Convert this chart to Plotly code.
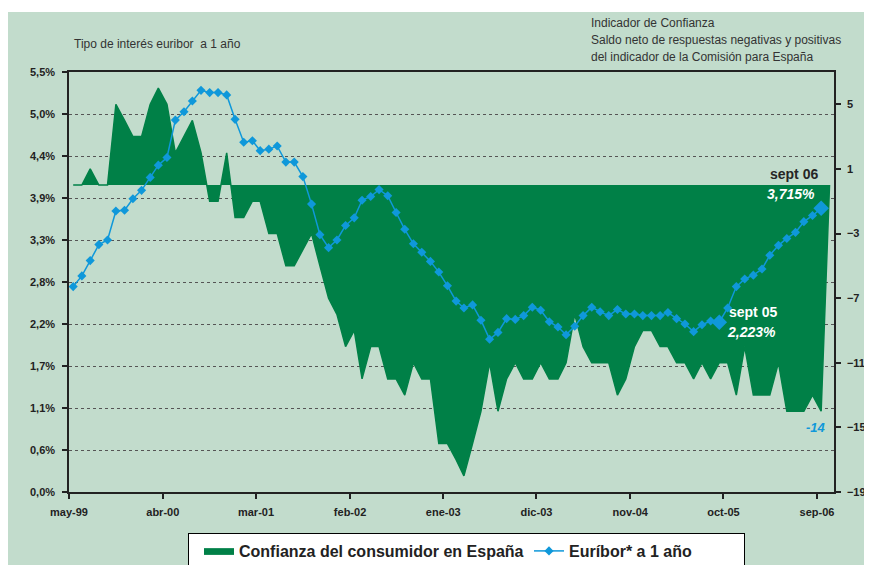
import pandas as pd
import plotly.graph_objects as go

# ---------------- data ----------------
# Monthly categories May-1999 .. Oct-2006
months = pd.date_range("1999-05-01", "2006-10-01", freq="MS")

# Consumer confidence indicator (Spain), balance of answers (right axis)
confianza = [
    0, 0, 1, 0, 0, 5, 4, 3, 3, 5, 6, 5,            # may-99 .. apr-00
    2, 3, 4, 2, -1, -1, 2, -2, -2, -1, -1, -3,     # may-00 .. apr-01
    -3, -5, -5, -4, -3, -5, -7, -8, -10, -9, -12, -10,   # may-01 .. apr-02
    -10, -12, -12, -13, -11, -12, -12, -16, -16, -17, -18, -16,  # may-02 .. apr-03
    -14, -11, -14, -12, -11, -12, -12, -11, -12, -12, -11, -8,   # may-03 .. apr-04
    -10, -11, -11, -11, -13, -12, -10, -9, -9, -10, -10, -11,    # may-04 .. apr-05
    -11, -12, -11, -12, -11, -11, -13, -10, -13, -13, -13, -11,  # may-05 .. apr-06
    -14, -14, -14, -13, -14, 0,                    # may-06 .. oct-06
]

# 1-year Euribor (%), left axis
euribor = [
    2.69, 2.83, 3.03, 3.24, 3.30, 3.68, 3.69, 3.84, 3.95, 4.12, 4.28, 4.38,
    4.87, 4.98, 5.12, 5.26, 5.23, 5.23, 5.20, 4.88, 4.58, 4.60, 4.47, 4.49,
    4.53, 4.32, 4.32, 4.13, 3.77, 3.37, 3.20, 3.30, 3.49, 3.59, 3.82, 3.87,
    3.96, 3.88, 3.66, 3.44, 3.25, 3.14, 3.02, 2.88, 2.70, 2.50, 2.41, 2.45,
    2.25, 2.00, 2.09, 2.27, 2.26, 2.31, 2.42, 2.38, 2.23, 2.16, 2.06, 2.17,
    2.31, 2.42, 2.36, 2.31, 2.39, 2.33, 2.33, 2.31, 2.31, 2.31, 2.35, 2.27,
    2.20, 2.10, 2.19, 2.24, 2.223, 2.41, 2.69, 2.79, 2.84, 2.92, 3.10, 3.23,
    3.32, 3.40, 3.54, 3.62, 3.715,
]

left_tickvals = [0, 0.55, 1.1, 1.65, 2.2, 2.75, 3.3, 3.85, 4.4, 4.95, 5.5]
left_ticktext = ["0,0%", "0,6%", "1,1%", "1,7%", "2,2%", "2,8%", "3,3%", "3,9%", "4,4%", "5,0%", "5,5%"]
right_tickvals = [-19, -15, -11, -7, -3, 1, 5]
x_ticktext = ["may-99", "abr-00", "mar-01", "feb-02", "ene-03", "dic-03", "nov-04", "oct-05", "sep-06"]

highlight_idx = [76, 88]  # sept 05, sept 06

# ---------------- styling ----------------
BG = "#c2dccc"
GREEN = "#008047"
BLUE = "#0f98da"
FONT = "Liberation Sans, Arial, sans-serif"

# page body has an 8px margin: figure div starts at (8, 8)
OFF = 8
W, H = 872 - OFF, 565 - OFF
PL, PR, PT, PB = 69, 834, 72, 492        # wanted plot-area edges on the page
PW, PH = PR - PL, PB - PT


def px(xp):
    return (xp - PL) / PW


def py(yp):
    return (PB - yp) / PH


x_mid = months + pd.Timedelta(days=15)
x_eur = x_mid[: len(euribor)]
tickvals_x = months[::11]

fig = go.Figure()

fig.add_trace(go.Scatter(
    x=x_mid, y=confianza, name="Confianza del consumidor en España",
    mode="lines", fill="tozeroy", fillcolor=GREEN,
    line=dict(color=GREEN, width=1.5), yaxis="y", legendwidth=275,
))

fig.add_trace(go.Scatter(
    x=x_eur, y=euribor, name="Euríbor* a 1 año",
    mode="lines+markers", line=dict(color=BLUE, width=1.5),
    marker=dict(symbol="diamond", size=7, color=BLUE), yaxis="y2", legendwidth=170,
))

fig.add_trace(go.Scatter(
    x=[x_eur[i] for i in highlight_idx], y=[euribor[i] for i in highlight_idx],
    mode="markers", showlegend=False,
    marker=dict(symbol="diamond", size=12, color=BLUE), yaxis="y2",
))

ann = []
ann.append(dict(x=x_eur[88], y=euribor[88], xref="x", yref="y2", text="<b>sept 06</b>",
                showarrow=False, xshift=-27, yshift=34, font=dict(size=14, color="#262626", family=FONT)))
ann.append(dict(x=x_eur[88], y=euribor[88], xref="x", yref="y2", text="<b><i>3,715%</i></b>",
                showarrow=False, xshift=-30, yshift=14, font=dict(size=14, color="white", family=FONT)))
ann.append(dict(x=x_eur[76], y=euribor[76], xref="x", yref="y2", text="<b>sept 05</b>",
                showarrow=False, xshift=34, yshift=10, font=dict(size=14, color="white", family=FONT)))
ann.append(dict(x=x_eur[76], y=euribor[76], xref="x", yref="y2", text="<b><i>2,223%</i></b>",
                showarrow=False, xshift=32, yshift=-10, font=dict(size=14, color="white", family=FONT)))
ann.append(dict(x=x_mid[88], y=confianza[88], xref="x", yref="y", text="<b><i>%d</i></b>" % confianza[88],
                showarrow=False, xshift=-5, yshift=-16, font=dict(size=13, color=BLUE, family=FONT)))

ann.append(dict(x=px(72), y=py(44), xref="paper", yref="paper",
                xanchor="left", yanchor="middle", showarrow=False,
                text="Tipo de interés euribor  a 1 año", font=dict(size=12, color="#333333", family=FONT)))
for txt, yy in [("Indicador de Confianza", 23),
                ("Saldo neto de respuestas negativas y positivas", 40),
                ("del indicador de la Comisión para España", 57)]:
    ann.append(dict(x=px(589), y=py(yy), xref="paper", yref="paper",
                    xanchor="left", yanchor="middle", showarrow=False,
                    text=txt, font=dict(size=12, color="#333333", family=FONT)))

shapes = [dict(type="rect", xref="paper", yref="paper",
               x0=px(0), x1=px(880), y0=py(12), y1=py(0),
               fillcolor="white", line=dict(width=0), layer="above")]

fig.update_layout(
    width=W, height=H,
    margin=dict(l=PL - OFF, r=W - (PR - OFF), t=PT - OFF, b=H - (PB - OFF), autoexpand=False),
    paper_bgcolor=BG, plot_bgcolor=BG,
    font=dict(family=FONT, color="#222222"),
    showlegend=True,
    legend=dict(orientation="h", x=px(188), xanchor="left", y=py(533), yanchor="top",
                bgcolor="white", bordercolor="black", borderwidth=1, indentation=10,
                font=dict(size=16, family=FONT, weight="bold", color="#222222")),
    xaxis=dict(type="date", range=[months[0], months[-1] + pd.DateOffset(months=1)],
               tickvals=list(tickvals_x), ticktext=x_ticktext,
               ticks="outside", ticklen=5, tickcolor="#222", tickwidth=1.5,
               ticklabelstandoff=4,
               showline=True, linecolor="#222", linewidth=1.5, mirror=True,
               showgrid=False, zeroline=False,
               tickfont=dict(size=11, family=FONT, weight="bold", color="#222")),
    yaxis=dict(range=[-19, 7], side="right", tickvals=right_tickvals,
               ticks="outside", ticklen=5, tickcolor="#222", tickwidth=1.5,
               ticklabelstandoff=4,
               showline=True, linecolor="#222", linewidth=1.5,
               showgrid=False, zeroline=False,
               tickfont=dict(size=11, family=FONT, weight="bold", color="#222")),
    yaxis2=dict(range=[0, 5.5], side="left", overlaying="y",
                tickvals=left_tickvals, ticktext=left_ticktext,
                ticks="outside", ticklen=5, tickcolor="#222", tickwidth=1.5,
                ticklabelstandoff=5,
                showline=True, linecolor="#222", linewidth=1.5,
                showgrid=True, gridcolor="#555555", griddash="dot", gridwidth=1,
                zeroline=False,
                tickfont=dict(size=11, family=FONT, weight="bold", color="#222")),
    annotations=ann, shapes=shapes,
)

fig.write_html("out.html", post_script="document.body.style.overflow='hidden';")
